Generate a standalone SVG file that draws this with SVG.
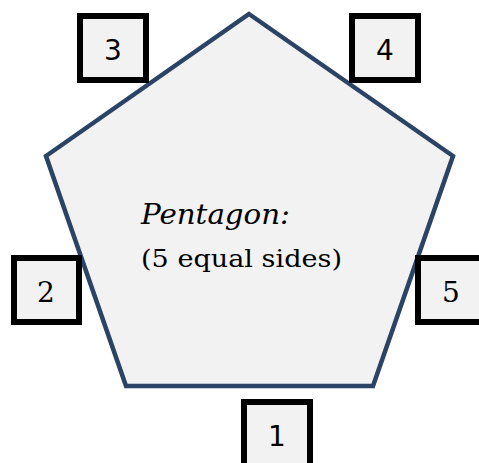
<svg xmlns="http://www.w3.org/2000/svg" width="479" height="463" viewBox="0 0 479 463">
<style>
.box{fill:#f2f2f2;stroke:#000;stroke-width:6}
.num{font-size:28px;fill:#000;text-anchor:middle}
.sans{font-family:"DejaVu Sans",sans-serif}
.serif{font-family:"DejaVu Serif",serif}
</style>
<rect width="479" height="463" fill="#fff"/>
<g id="pentagon">
<polygon points="249,14 453,156 373,386 126,386 46,156" fill="#f2f2f2" stroke="#2b4466" stroke-width="4.5" stroke-linejoin="miter"/>
<text class="serif" x="141" y="224" font-size="28" font-style="italic" textLength="149" lengthAdjust="spacingAndGlyphs">Pentagon:</text>
<text class="serif" x="141" y="267" font-size="25" textLength="201" lengthAdjust="spacingAndGlyphs">(5 equal sides)</text>
</g>
<g id="connectors"></g>
<g id="n3"><rect class="box" x="80" y="16" width="66" height="64"/><text class="num sans" x="113" y="60">3</text></g>
<g id="n4"><rect class="box" x="352" y="16" width="66" height="64"/><text class="num sans" x="385" y="60">4</text></g>
<g id="n2"><rect class="box" x="14" y="258" width="65" height="64"/><text class="num serif" x="46" y="302">2</text></g>
<g id="n5"><rect class="box" x="418" y="258" width="66" height="64"/><text class="num serif" x="451" y="302">5</text></g>
<g id="n1"><rect class="box" x="244" y="402" width="66" height="64"/><text class="num sans" x="277" y="446">1</text></g>
</svg>
